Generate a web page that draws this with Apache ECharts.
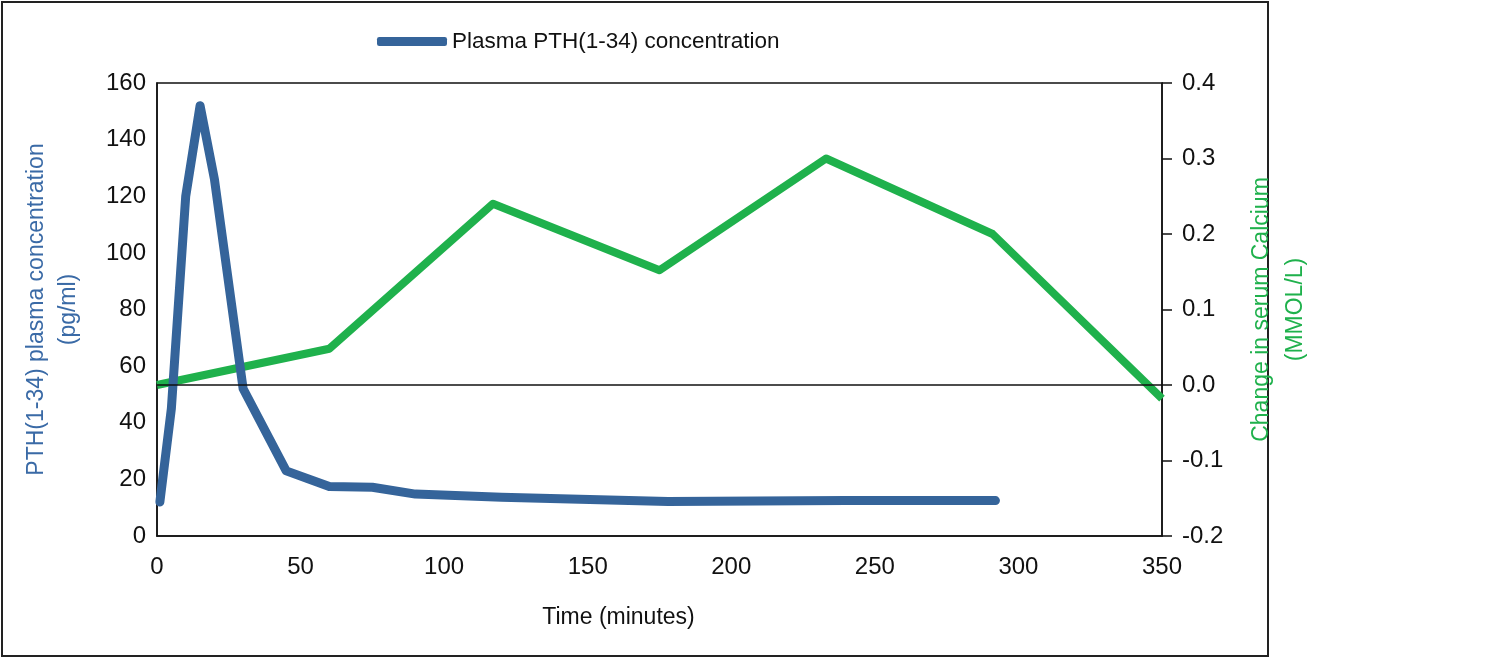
<!DOCTYPE html>
<html>
<head>
<meta charset="utf-8">
<script src="https://cdn.jsdelivr.net/npm/echarts@6/dist/echarts.min.js"></script>
<style>
    html, body { margin: 0; padding: 0; background: #fff; }
    #chart { width: 1500px; height: 659px; }
</style>
</head>
<body>
<div id="chart"></div>
<script>
// PTH(1-34) plasma concentration (pg/ml) vs time (minutes)
var pthTimes = [1, 5, 10, 15, 20, 30, 45, 60, 75, 90, 120, 178, 240, 292];
var pthValues = [12, 45, 120, 152, 126, 52, 23, 17.5, 17.2, 14.8, 13.7, 12.2, 12.5, 12.5];

// change in serum calcium (MMOL/L)
var caTimes = [0, 60, 117, 175, 233, 291, 350];
var caValues = [0, 0.048, 0.24, 0.152, 0.30, 0.20, -0.018];

var xTicks = [0, 50, 100, 150, 200, 250, 300, 350];

var FONT = "'Liberation Sans', Arial, sans-serif";
var BLUE = '#35649a';
var GREEN = '#1fb14c';

function zip(xs, ys) {
    var res = [];
    for (var i = 0; i < xs.length; i++) {
        res.push([xs[i], ys[i]]);
    }
    return res;
}

var myChart = echarts.init(document.getElementById('chart'));
var option = {
    backgroundColor: '#fff',
    animation: false,
    textStyle: { fontFamily: FONT },
    graphic: [{
        type: 'rect',
        shape: { x: 2, y: 2, width: 1266, height: 654 },
        style: { fill: 'none', stroke: '#222', lineWidth: 2 }
    }],
    legend: {
        data: ['Plasma PTH(1-34) concentration'],
        left: 372,
        top: 25,
        itemWidth: 70,
        itemHeight: 9,
        itemGap: 6,
        icon: 'roundRect',
        textStyle: { fontSize: 22.5, color: '#111', fontFamily: FONT }
    },
    grid: {
        left: 157,
        right: 338,
        top: 83,
        bottom: 123,
        show: true,
        borderColor: '#111',
        borderWidth: 1.5
    },
    xAxis: {
        type: 'value',
        min: xTicks[0],
        max: xTicks[xTicks.length - 1],
        interval: 50,
        name: 'Time (minutes)',
        nameLocation: 'middle',
        nameGap: 70,
        nameTextStyle: { fontSize: 23, color: '#111', fontFamily: FONT, padding: [0, 82, 0, 0] },
        axisLine: { show: true, lineStyle: { color: '#111', width: 1.5 } },
        axisTick: { show: false },
        splitLine: { show: false },
        axisLabel: { fontSize: 24, color: '#111', margin: 19, fontFamily: FONT }
    },
    yAxis: [{
        type: 'value',
        min: 0,
        max: 160,
        interval: 20,
        position: 'left',
        name: 'PTH(1-34) plasma concentration\n(pg/ml)',
        nameLocation: 'middle',
        nameRotate: 90,
        nameGap: 72,
        nameTextStyle: { fontSize: 23, color: '#3a6aa6', lineHeight: 32, align: 'center', fontFamily: FONT },
        axisLine: { show: true, lineStyle: { color: '#111', width: 1.5 } },
        axisTick: { show: false },
        splitLine: { show: false },
        axisLabel: { fontSize: 24, color: '#111', margin: 11, fontFamily: FONT }
    }, {
        type: 'value',
        min: -0.2,
        max: 0.4,
        interval: 0.1,
        position: 'right',
        name: 'Change in serum Calcium\n(MMOL/L)',
        nameLocation: 'middle',
        nameRotate: 90,
        nameGap: 83,
        nameTextStyle: { fontSize: 23, color: GREEN, lineHeight: 34, align: 'center', fontFamily: FONT },
        axisLine: { show: true, lineStyle: { color: '#111', width: 1.5 } },
        axisTick: { show: true, inside: false, length: 10, lineStyle: { color: '#111', width: 1.5 } },
        splitLine: { show: false },
        axisLabel: {
            fontSize: 24, color: '#111', margin: 20, fontFamily: FONT,
            formatter: function (v) { return v.toFixed(1); }
        }
    }],
    series: [{
        name: 'Plasma PTH(1-34) concentration',
        type: 'line',
        yAxisIndex: 0,
        data: zip(pthTimes, pthValues),
        showSymbol: false,
        symbol: 'none',
        color: BLUE,
        lineStyle: { color: BLUE, width: 9, cap: 'round', join: 'round' },
        z: 3
    }, {
        name: 'Change in serum Calcium',
        type: 'line',
        yAxisIndex: 1,
        data: zip(caTimes, caValues),
        showSymbol: false,
        symbol: 'none',
        color: GREEN,
        lineStyle: { color: GREEN, width: 8, join: 'round' },
        z: 2,
        markLine: {
            silent: true,
            symbol: ['none', 'none'],
            label: { show: false },
            lineStyle: { color: '#111', width: 1.5, type: 'solid' },
            data: [{ yAxis: 0 }],
            z: 4
        }
    }]
};
myChart.setOption(option);
</script>
</body>
</html>
